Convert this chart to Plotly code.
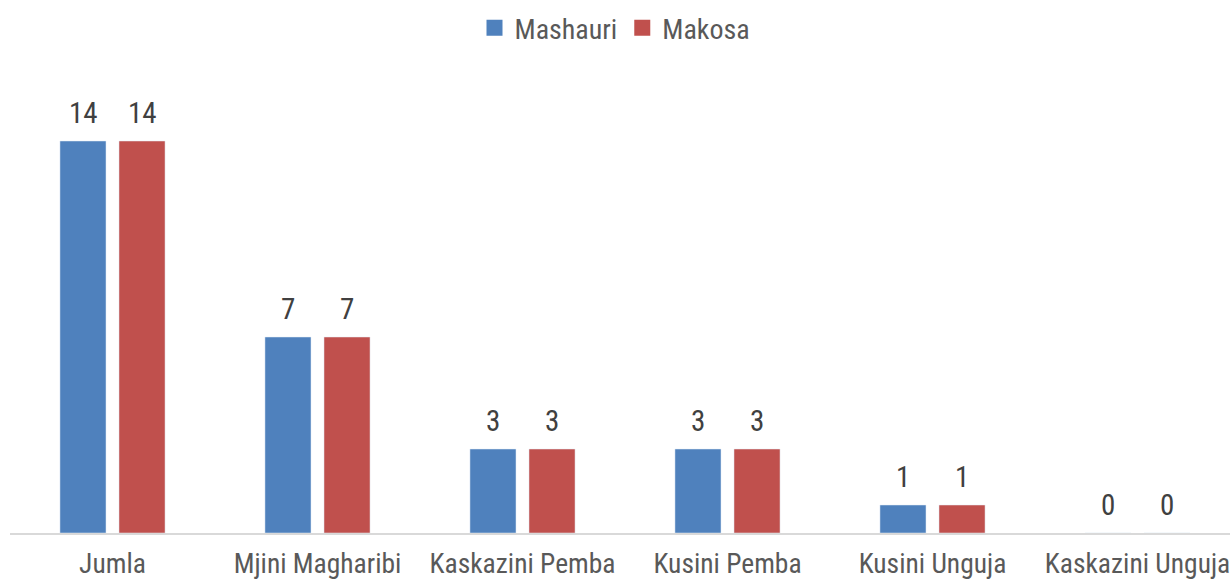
import plotly.graph_objects as go

categories = ["Jumla", "Mjini Magharibi", "Kaskazini Pemba", "Kusini Pemba", "Kusini Unguja", "Kaskazini Unguja"]
mashauri = [14, 7, 3, 3, 1, 0]
makosa = [14, 7, 3, 3, 1, 0]
series_names = ["Mashauri", "Makosa"]

FONT = "Liberation Sans Narrow, Arial Narrow, Roboto Condensed, sans-serif"
blue = "#4F81BD"
red = "#C0504D"
colors = [blue, red]

fig = go.Figure()
for name, vals, col in zip(series_names, [mashauri, makosa], colors):
    fig.add_trace(go.Bar(name=name, x=categories, y=vals, marker_color=col, showlegend=False))
# legend entries with larger square swatches
for name, col in zip(series_names, colors):
    fig.add_trace(go.Scatter(name=name, x=[None], y=[None], mode="markers",
                             marker=dict(symbol="square", size=17, color=col), showlegend=True))

for cat, v in zip(categories, mashauri):
    fig.add_annotation(x=cat, y=v, text=str(v), showarrow=False, xshift=-29.5, yshift=9,
                       yanchor="bottom", font=dict(family=FONT, size=29, color="#404040"))
for cat, v in zip(categories, makosa):
    fig.add_annotation(x=cat, y=v, text=str(v), showarrow=False, xshift=29.5, yshift=9,
                       yanchor="bottom", font=dict(family=FONT, size=29, color="#404040"))

fig.update_layout(
    width=1230, height=583,
    margin=dict(l=10, r=0, t=85, b=50),
    paper_bgcolor="white", plot_bgcolor="white",
    barmode="group", bargap=0.424, bargroupgap=0.22,
    font=dict(family=FONT, size=28, color="#595959"),
    legend=dict(orientation="h", x=0.5, xanchor="center", xref="container",
                y=1 - 28 / 583, yanchor="middle", yref="container",
                itemwidth=30, tracegroupgap=0,
                font=dict(family=FONT, size=28, color="#595959")),
    xaxis=dict(range=[-0.5, 5.5 - 10 / 205], showline=True, linecolor="#D9D9D9", linewidth=2,
               ticks="outside", ticklen=5, tickcolor="rgba(0,0,0,0)", showgrid=False,
               automargin=False,
               tickfont=dict(family=FONT, size=27.5, color="#595959")),
    yaxis=dict(range=[0, 16], visible=False, showgrid=False),
)

fig.write_html("out.html", config={"displayModeBar": False},
               post_script="document.body.style.margin='0';")
